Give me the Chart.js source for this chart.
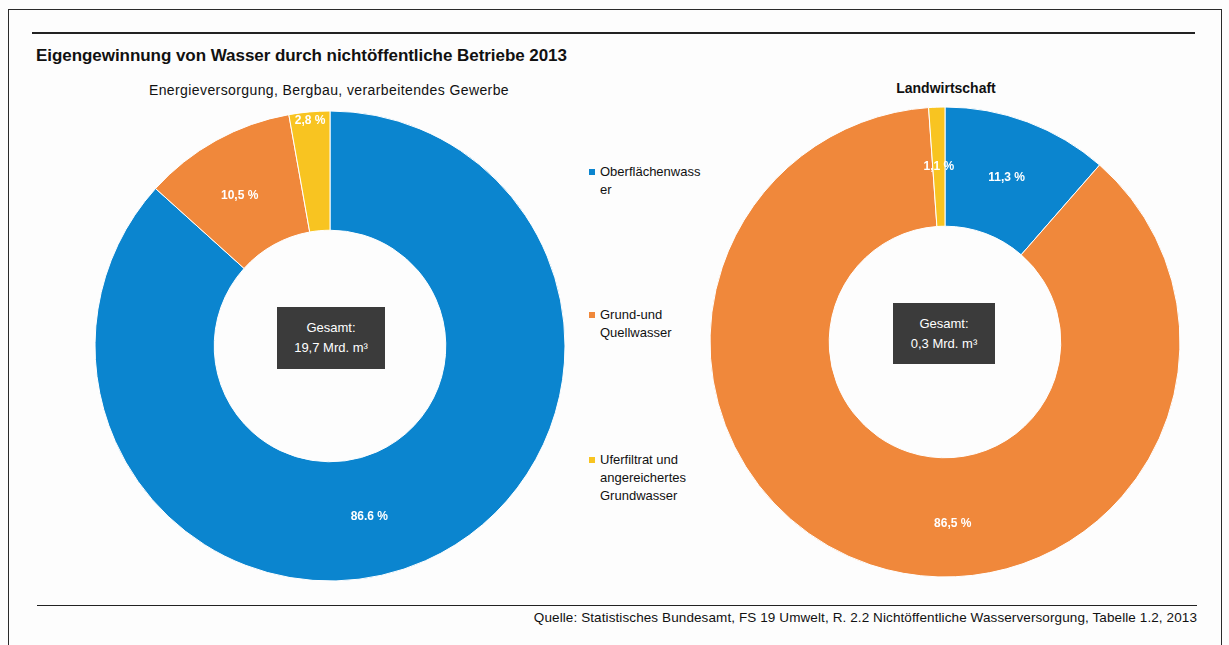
<!DOCTYPE html>
<html>
<head>
<meta charset="utf-8">
<script src="https://cdn.jsdelivr.net/npm/chart.js@4"></script>
<style>
  body { margin: 0; background: #fdfdfd; font-family: "Liberation Sans", Arial, sans-serif; }
  #page { position: relative; width: 1229px; height: 645px; overflow: hidden; }
  .frame { position: absolute; left: 8px; top: 9px; width: 1214px; height: 660px; border: 1.5px solid #2a2a2a; box-sizing: border-box; }
  .rule { position: absolute; height: 0; border-top: 2px solid #222; }
  .title { position: absolute; left: 36px; top: 46px; font-size: 17px; font-weight: bold; color: #111; letter-spacing: -0.05px; white-space: nowrap; }
  .sub { position: absolute; font-size: 14px; color: #111; white-space: nowrap; transform: translateX(-50%); }
  .box { position: absolute; background: #3b3b3b; color: #fff; font-size: 13px; text-align: center; line-height: 20px; box-sizing: border-box; padding-top: 11px; }
  .leg { position: absolute; left: 600px; font-size: 13px; line-height: 18px; color: #111; letter-spacing: 0; }
  .leg i { position: absolute; left: -11px; top: 6px; width: 6px; height: 6px; }
  .src { position: absolute; right: 32px; top: 610px; font-size: 13.5px; color: #111; letter-spacing: 0.1px; white-space: nowrap; }
  canvas { position: absolute; }
</style>
</head>
<body>
<div id="page">
  <div class="frame"></div>
  <div class="rule" style="left:32px; top:32px; width:1163px;"></div>
  <div class="title">Eigengewinnung von Wasser durch nichtöffentliche Betriebe 2013</div>
  <div class="sub" style="left:329px; top:82px; letter-spacing:0.4px;">Energieversorgung, Bergbau, verarbeitendes Gewerbe</div>
  <div class="sub" style="left:946px; top:80px; font-weight:bold;">Landwirtschaft</div>

  <canvas id="left" width="480" height="480" style="left:90px; top:106px;"></canvas>
  <canvas id="right" width="480" height="480" style="left:705px; top:102px;"></canvas>

  <div class="box" style="left:277px; top:307px; width:108px; height:62px;">Gesamt:<br>19,7 Mrd. m³</div>
  <div class="box" style="left:893px; top:303px; width:102px; height:61px;">Gesamt:<br>0,3 Mrd. m³</div>

  <div id="legend"></div>

  <div class="rule" style="left:37px; top:605px; width:1160px; border-top-width:1.5px;"></div>
  <div class="src">Quelle: Statistisches Bundesamt, FS 19 Umwelt, R. 2.2 Nichtöffentliche Wasserversorgung, Tabelle 1.2, 2013</div>
</div>

<script>
var categories = ['Oberflächenwasser', 'Grund-und Quellwasser', 'Uferfiltrat und angereichertes Grundwasser'];
var legendLines = [['Oberflächenwass', 'er'], ['Grund-und', 'Quellwasser'], ['Uferfiltrat und', 'angereichertes', 'Grundwasser']];
var industryShares = [86.6, 10.5, 2.8];
var industryLabels = ['86.6 %', '10,5 %', '2,8 %'];
var farmShares = [11.3, 86.5, 1.1];
var farmLabels = ['11,3 %', '86,5 %', '1,1 %'];
var colors = ['#0b85cf', '#f0883b', '#f8c421'];

// label placement tweaks: [angle shift in degrees, radius fraction between inner (0) and outer (1)]
var industryLabelPos = [[11, 0.5], [-2, 0.5], [0, 0.93]];
var farmLabelPos = [[0, 0.5], [-21, 0.55], [0, 0.5]];

var legendTops = [163, 306, 451];
var legendEl = document.getElementById('legend');
legendLines.forEach(function (lines, i) {
    var d = document.createElement('div');
    d.className = 'leg';
    d.style.top = legendTops[i] + 'px';
    d.innerHTML = '<i style="background:' + colors[i] + '"></i>' + lines.join('<br>');
    legendEl.appendChild(d);
});

var sliceLabels = {
    id: 'sliceLabels',
    afterDatasetsDraw: function (chart, args, opts) {
        var ctx = chart.ctx;
        var meta = chart.getDatasetMeta(0);
        ctx.save();
        ctx.fillStyle = '#ffffff';
        ctx.font = 'bold 12px "Liberation Sans", Arial, sans-serif';
        ctx.textAlign = 'center';
        ctx.textBaseline = 'middle';
        meta.data.forEach(function (arc, i) {
            var p = arc.getProps(['x', 'y', 'startAngle', 'endAngle', 'innerRadius', 'outerRadius'], true);
            var pos = opts.pos[i];
            var a = (p.startAngle + p.endAngle) / 2 + pos[0] * Math.PI / 180;
            var r = p.innerRadius + (p.outerRadius - p.innerRadius) * pos[1];
            ctx.fillText(opts.texts[i], p.x + Math.cos(a) * r, p.y + Math.sin(a) * r);
        });
        ctx.restore();
    }
};

function makeDonut(id, values, texts, pos) {
    return new Chart(document.getElementById(id).getContext('2d'), {
        type: 'doughnut',
        data: {
            labels: categories,
            datasets: [{
                data: values,
                backgroundColor: colors,
                borderColor: '#ffffff',
                borderWidth: 1
            }]
        },
        options: {
            responsive: false,
            animation: false,
            radius: 235,
            cutout: 118,
            layout: { padding: 0 },
            plugins: {
                legend: { display: false },
                tooltip: { enabled: false },
                sliceLabels: { texts: texts, pos: pos }
            }
        },
        plugins: [sliceLabels]
    });
}

makeDonut('left', industryShares, industryLabels, industryLabelPos);
makeDonut('right', farmShares, farmLabels, farmLabelPos);
</script>
</body>
</html>
